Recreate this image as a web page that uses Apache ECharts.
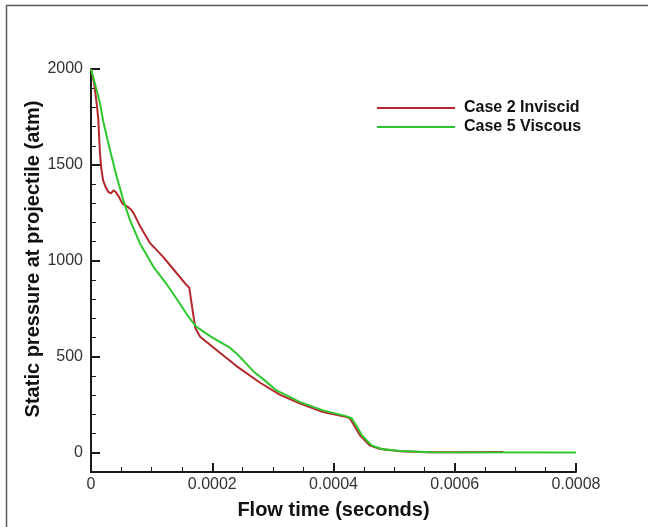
<!DOCTYPE html>
<html>
<head>
<meta charset="utf-8">
<script src="https://cdn.jsdelivr.net/npm/echarts@6/dist/echarts.min.js"></script>
<style>
  html, body { margin: 0; padding: 0; background: #fff; }
  #chart { width: 648px; height: 527px; }
</style>
</head>
<body>
<div id="chart"></div>
<script>
// Static pressure on the projectile base versus flow time
const seriesNames = ['Case 2 Inviscid', 'Case 5 Viscous'];
const xTitle = 'Flow time (seconds)';
const yTitle = 'Static pressure at projectile (atm)';

const caseTwoTime = [0, 0.000005, 0.0000094, 0.000012, 0.0000148, 0.000017, 0.000020, 0.000024,
  0.000029, 0.000033, 0.000037, 0.000041, 0.000046, 0.000052, 0.000060, 0.000066, 0.000071,
  0.000081, 0.000097, 0.000119, 0.000141, 0.000158, 0.000162, 0.000172, 0.000180, 0.000207,
  0.000240, 0.000279, 0.000312, 0.000345, 0.000383, 0.000422, 0.000427, 0.000444, 0.000460,
  0.000477, 0.000510, 0.000554, 0.000600, 0.000680];
const caseTwoPressure = [2000, 1930, 1820, 1740, 1560, 1480, 1420, 1385,
  1358, 1352, 1368, 1358, 1334, 1298, 1283, 1268, 1245,
  1180, 1094, 1021, 937, 873, 862, 650, 605, 536,
  452, 365, 302, 256, 212, 186, 180, 90, 38,
  20, 8, 3, 3, 4];

const caseFiveTime = [0, 0.0000094, 0.0000148, 0.0000203, 0.0000313, 0.0000424, 0.0000533,
  0.0000643, 0.0000808, 0.000103, 0.000124, 0.000144, 0.000158, 0.000166, 0.000174, 0.000199,
  0.000229, 0.000240, 0.000251, 0.000268, 0.000284, 0.000306, 0.000345, 0.000383, 0.000422,
  0.000430, 0.000438, 0.000447, 0.000463, 0.000480, 0.000510, 0.000560, 0.000800];
const caseFivePressure = [2000, 1889, 1822, 1725, 1578, 1438, 1317,
  1212, 1091, 969, 882, 790, 722, 688, 656, 603,
  548, 518, 482, 424, 384, 325, 264, 221, 190,
  180, 140, 90, 38, 20, 9, 3, 2];

const xTicks = [0, 0.0002, 0.0004, 0.0006, 0.0008];
const yTicks = [0, 500, 1000, 1500, 2000];

const pairs = (xs, ys) => xs.map((x, i) => [x, ys[i]]);

const fontFamily = 'Liberation Sans, Arial, sans-serif';
const axisColor = '#1a1a1a';
const labelFont = { color: '#333', fontSize: 16, fontFamily };
const titleFont = { color: '#111', fontSize: 20, fontWeight: 'bold', fontFamily };

const chart = echarts.init(document.getElementById('chart'), null, { renderer: 'canvas' });

chart.setOption({
  backgroundColor: '#fff',
  animation: false,
  grid: { left: 91, top: 69, right: 72, bottom: 55, containLabel: false },
  legend: {
    data: seriesNames.map(name => ({ name, icon: 'rect' })),
    orient: 'vertical',
    left: 372,
    top: 95,
    itemWidth: 78,
    itemHeight: 2,
    itemGap: 3,
    textStyle: {
      color: '#111', fontSize: 16, fontWeight: 'bold', lineHeight: 16,
      fontFamily, padding: [0, 0, 0, 4]
    }
  },
  xAxis: {
    type: 'value',
    min: 0, max: 0.0008, interval: 0.0002,
    name: xTitle,
    nameLocation: 'middle',
    nameGap: 28,
    nameTextStyle: titleFont,
    axisLine: { onZero: false, lineStyle: { color: axisColor, width: 2 } },
    axisTick: { inside: true, length: 9, lineStyle: { color: axisColor, width: 2 } },
    minorTick: { show: true, splitNumber: 4, length: 5, lineStyle: { color: axisColor, width: 1 } },
    splitLine: { show: false },
    axisLabel: Object.assign({ margin: 5, formatter: v => v === 0 ? '0' : v.toFixed(4) }, labelFont)
  },
  yAxis: [{
    type: 'value',
    min: -100, max: 2000, interval: 100,
    axisLine: { onZero: false, lineStyle: { color: axisColor, width: 2 } },
    axisTick: { inside: true, length: 5, lineStyle: { color: axisColor, width: 1 } },
    splitLine: { show: false },
    axisLabel: Object.assign({
      margin: 8, interval: 0,
      formatter: v => (yTicks.indexOf(v) >= 0 ? String(v) : '')
    }, labelFont)
  }, {
    // major tick marks every 500 atm
    type: 'value',
    position: 'left',
    min: -100, max: 2000,
    axisLine: { show: false },
    axisTick: { show: true, inside: true, length: 9, customValues: yTicks, lineStyle: { color: axisColor, width: 2 } },
    axisLabel: { show: false },
    splitLine: { show: false }
  }],
  series: [{
    name: seriesNames[0],
    type: 'line',
    data: pairs(caseTwoTime, caseTwoPressure),
    symbol: 'none',
    lineStyle: { color: '#b3272d', width: 2 },
    itemStyle: { color: '#b3272d' },
    z: 2
  }, {
    name: seriesNames[1],
    type: 'line',
    data: pairs(caseFiveTime, caseFivePressure),
    symbol: 'none',
    lineStyle: { color: '#2ec82e', width: 2 },
    itemStyle: { color: '#2ec82e' },
    z: 3
  }],
  graphic: [{
    type: 'polyline',
    shape: { points: [[6.5, 527], [6.5, 5.5], [648, 5.5]] },
    style: { stroke: '#5a5a5a', lineWidth: 1.5, fill: null },
    silent: true
  }, {
    // vertical axis title
    type: 'text',
    x: 33,
    y: 259,
    rotation: Math.PI / 2,
    style: { text: yTitle, fill: titleFont.color, align: 'center', verticalAlign: 'middle',
      font: 'bold 20px ' + fontFamily }
  }]
});
</script>
</body>
</html>
